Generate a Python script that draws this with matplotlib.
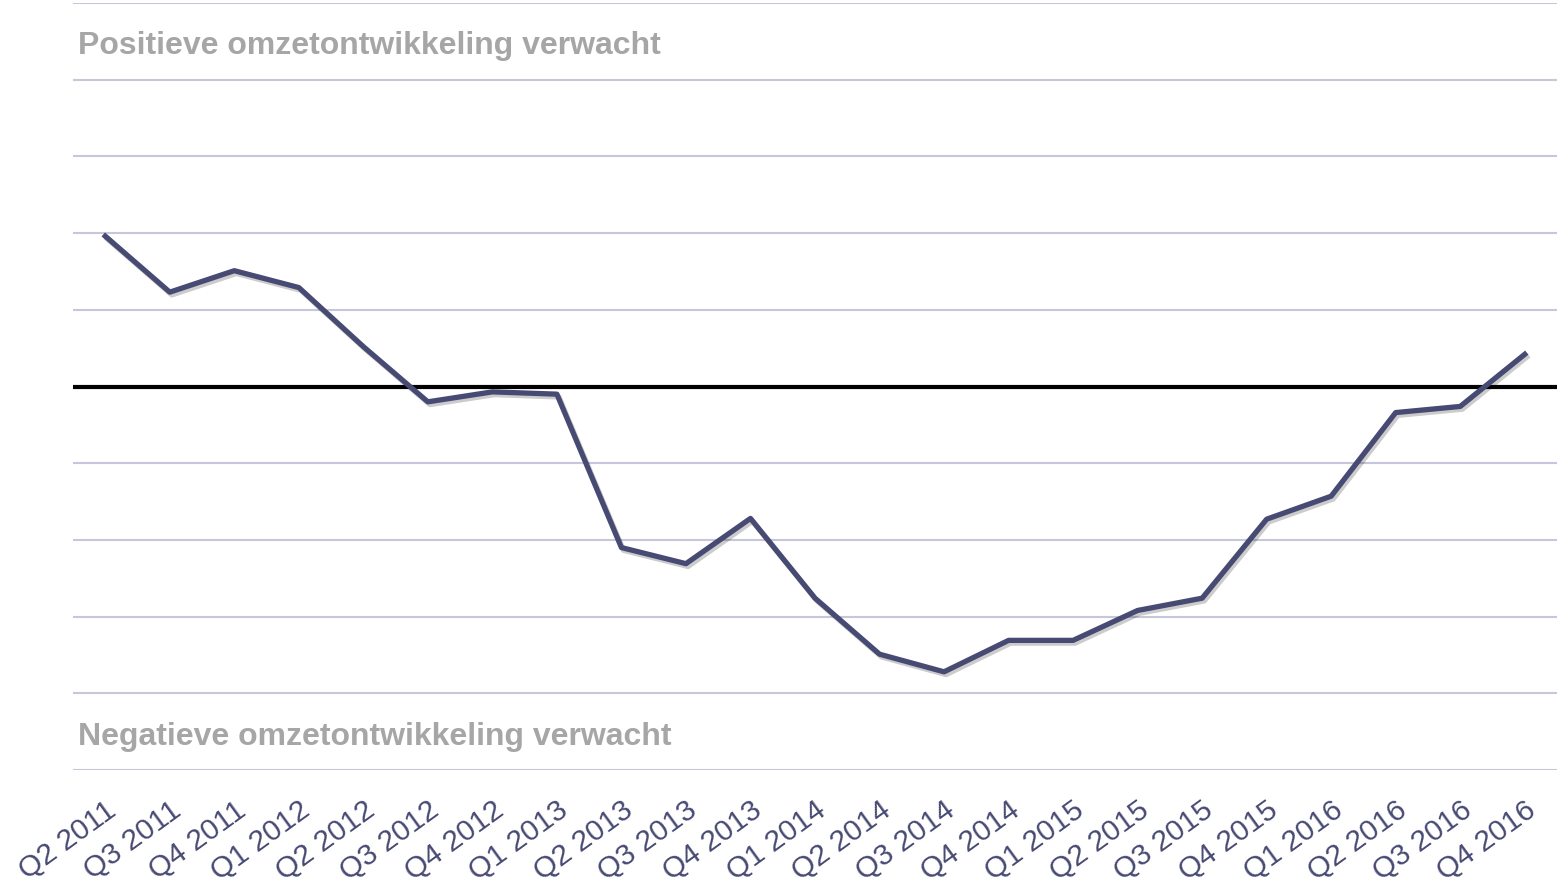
import matplotlib
matplotlib.use("Agg")
import matplotlib.pyplot as plt
import matplotlib.patheffects as pe

# quarters shown on the x axis
quarters = ["Q2 2011", "Q3 2011", "Q4 2011", "Q1 2012", "Q2 2012", "Q3 2012",
            "Q4 2012", "Q1 2013", "Q2 2013", "Q3 2013", "Q4 2013", "Q1 2014",
            "Q2 2014", "Q3 2014", "Q4 2014", "Q1 2015", "Q2 2015", "Q3 2015",
            "Q4 2015", "Q1 2016", "Q2 2016", "Q3 2016", "Q4 2016"]
# expected turnover development (grid units)
values = [1.96, 1.23, 1.51, 1.29, 0.52, -0.20, -0.07, -0.10, -2.10, -2.31,
          -1.72, -2.76, -3.49, -3.72, -3.31, -3.31, -2.92, -2.76, -1.73,
          -1.43, -0.34, -0.26, 0.42]
grid_levels = [-5, -4, -3, -2, -1, 1, 2, 3, 4, 5]
top_text = "Positieve omzetontwikkeling verwacht"
bottom_text = "Negatieve omzetontwikkeling verwacht"

plt.rcParams["font.family"] = ["Liberation Sans", "DejaVu Sans"]

fig = plt.figure(figsize=(15.57, 8.85), dpi=100)
ax = fig.add_axes([73 / 1557, 1 - 770 / 885, 1 - 73 / 1557, (770 - 3) / 885])

for g in grid_levels:
    ax.axhline(g, color="#c6c6dc", lw=1.5, zorder=1)
ax.axhline(0, color="black", lw=3, zorder=2)

x = list(range(len(quarters)))
ax.plot(x, values, color="#474a72", lw=3.8, zorder=3,
        path_effects=[pe.SimpleLineShadow(offset=(1.5, -2), alpha=0.2, shadow_color="black"),
                      pe.Normal()])

# labels in the top and bottom bands
ax.text(-0.43, 4.34, top_text, color="#a6a6a6", fontsize=23, fontweight="bold",
        va="baseline", ha="left")
ax.text(-0.43, -4.68, bottom_text, color="#a6a6a6", fontsize=23, fontweight="bold",
        va="baseline", ha="left")

ax.set_xlim(-0.5, 22.5)
ax.set_ylim(-5, 5)
ax.set_xticks(x)
ax.set_xticklabels(quarters, rotation=36, ha="right", va="top", rotation_mode="anchor",
                   fontsize=21.5, color="#474a72")
ax.tick_params(axis="x", length=0, pad=19)
ax.set_yticks([])
for s in ax.spines.values():
    s.set_visible(False)

fig.savefig("out.png", dpi=100)
